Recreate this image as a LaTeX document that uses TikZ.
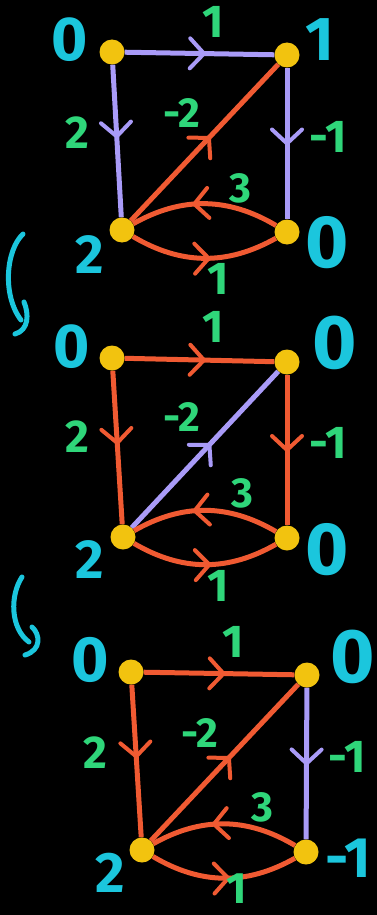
\documentclass[tikz,border=0pt]{standalone}
\usepackage{fontspec}
\setmainfont{Fira Sans}
\usetikzlibrary{decorations.markings}
\definecolor{lav}{HTML}{A99BF8}
\definecolor{org}{HTML}{F05A32}
\definecolor{yel}{HTML}{F2C30F}
\definecolor{cyn}{HTML}{1BC6DD}
\definecolor{grn}{HTML}{2FD67A}
\pgfdeclarelayer{bg}
\pgfdeclarelayer{edges}
\pgfsetlayers{bg,edges,main}
\tikzset{
  vtx/.style={circle,fill=yel,inner sep=0pt,minimum size=25pt},
  edg/.style={draw,line width=5pt,postaction={decorate},
    decoration={markings,mark=at position #1 with {\draw[line width=4pt,line cap=round,line join=round] (-14pt,15pt) -- (0pt,0pt) -- (-14pt,-15pt);}}},
  pe/.style={edg=#1,color=lav},
  pe/.default=0.53,
  oe/.style={edg=#1,color=org},
  oe/.default=0.53,
  gl/.style={text=grn,inner sep=0pt,font=\fontsize{#1}{#1}\selectfont\bfseries},
  gl/.default=46,
  cl/.style={text=cyn,inner sep=0pt,font=\fontsize{#1}{#1}\selectfont\bfseries},
  curl/.style={draw=cyn,line width=5pt,line cap=round,line join=round}
}
\begin{document}
\begin{tikzpicture}[x=1pt,y=-1pt]
\begin{pgfonlayer}{bg}
\fill[black] (0,0) rectangle (377,915);
\end{pgfonlayer}
\useasboundingbox (0,0) rectangle (377,915);

% ---------- picture 1 ----------
\node[vtx] (a1) at (112,52) {};
\node[vtx] (b1) at (287,55) {};
\node[vtx] (c1) at (122,230) {};
\node[vtx] (d1) at (287,232) {};
\begin{pgfonlayer}{edges}
\draw[pe] (a1) -- (b1);
\draw[pe=0.47] (a1) -- (c1);
\draw[pe=0.5] (b1) -- (d1);
\draw[oe] (c1) -- (b1);
\draw[oe=0.57] (d1) to[bend right=30] (c1);
\draw[oe] (c1) to[bend right=30] (d1);
\end{pgfonlayer}
\node[gl] (w1a) at (213,22) {1};
\node[gl] (w1b) at (77,133) {2};
\node[gl=42] (w1c) at (182,113) {-2};
\node[gl] (w1d) at (328,137) {-1};
\node[gl=42] (w1e) at (240,188) {3};
\node[gl] (w1f) at (218,279) {1};
\node[cl=62] (p1a) at (70,40) {0};
\node[cl=62] (p1b) at (320,40) {1};
\node[cl=55] (p1c) at (90,255) {2};
\node[cl=74] (p1d) at (327,243) {0};

% curly arrow 1
\draw[curl] (23,234) .. controls (6,250) and (2,295) .. (21,320);
\draw[curl] (24,302) .. controls (29,314) and (29,330) .. (15,334);

% ---------- picture 2 ----------
\node[vtx] (a2) at (112,358) {};
\node[vtx] (b2) at (287,362) {};
\node[vtx] (c2) at (123,537) {};
\node[vtx] (d2) at (287,538) {};
\begin{pgfonlayer}{edges}
\draw[oe] (a2) -- (b2);
\draw[oe=0.47] (a2) -- (c2);
\draw[oe=0.5] (b2) -- (d2);
\draw[pe] (c2) -- (b2);
\draw[oe=0.57] (d2) to[bend right=30] (c2);
\draw[oe] (c2) to[bend right=30] (d2);
\end{pgfonlayer}
\node[gl] (w2a) at (213,327) {1};
\node[gl] (w2b) at (77,437) {2};
\node[gl=42] (w2c) at (182,417) {-2};
\node[gl] (w2d) at (328,443) {-1};
\node[gl=42] (w2e) at (242,493) {3};
\node[gl] (w2f) at (218,586) {1};
\node[cl=62] (p2a) at (72,347) {0};
\node[cl=76] (p2b) at (335,343) {0};
\node[cl=55] (p2c) at (90,560) {2};
\node[cl=74] (p2d) at (327,550) {0};

% curly arrow 2
\draw[curl] (22,577) .. controls (10,595) and (10,628) .. (29,642);
\draw[curl] (32,627) .. controls (40,634) and (42,650) .. (25,655);

% ---------- picture 3 ----------
\node[vtx] (a3) at (131,672) {};
\node[vtx] (b3) at (307,675) {};
\node[vtx] (c3) at (142,850) {};
\node[vtx] (d3) at (306,852) {};
\begin{pgfonlayer}{edges}
\draw[oe] (a3) -- (b3);
\draw[oe=0.47] (a3) -- (c3);
\draw[pe=0.5] (b3) -- (d3);
\draw[oe] (c3) -- (b3);
\draw[oe=0.57] (d3) to[bend right=30] (c3);
\draw[oe] (c3) to[bend right=30] (d3);
\end{pgfonlayer}
\node[gl] (w3a) at (233,642) {1};
\node[gl] (w3b) at (95,753) {2};
\node[gl=42] (w3c) at (200,733) {-2};
\node[gl] (w3d) at (347,757) {-1};
\node[gl=42] (w3e) at (262,807) {3};
\node[gl=44] (w3f) at (237,889) {1};
\node[cl=64] (p3a) at (90,660) {0};
\node[cl=76] (p3b) at (353,657) {0};
\node[cl=57] (p3c) at (110,873) {2};
\node[cl=57] (p3d) at (348,858) {-1};
\end{tikzpicture}
\end{document}
